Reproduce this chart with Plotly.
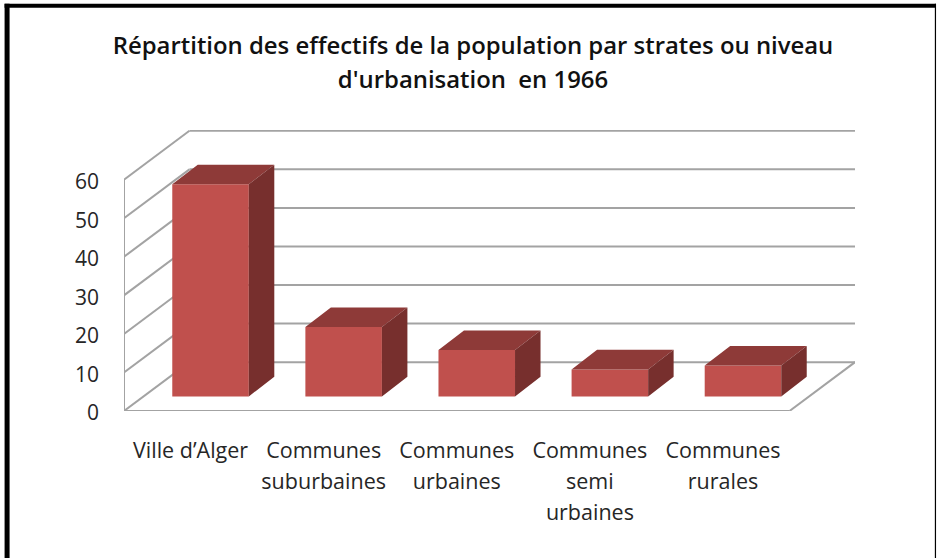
import plotly.graph_objects as go

categories = ["Ville d’Alger", "Communes<br>suburbaines", "Communes<br>urbaines", "Communes<br>semi<br>urbaines", "Communes<br>rurales"]
values = [55, 18, 12, 7, 8]
y_ticks = [0, 10, 20, 30, 40, 50, 60]
title_lines = ["Répartition des effectifs de la population par strates ou niveau", "d'urbanisation  en 1966"]

W, H = 937, 558
L, R, T, B = 123.5, 855, 130, 410.6
PX_X = 133.2   # px per category
PX_Y = 3.85    # px per value unit
px = lambda d: d / PX_X
py = lambda d: d / PX_Y

WALL_DX, WALL_DY = px(65.5), py(48.8)
BAR_DX, BAR_DY = px(20), py(14.6)
DEPTH_DX, DEPTH_DY = px(25.5), py(19.5)
BAR_W = px(76.6)
x_lo, x_hi = -0.5, -0.5 + (R - L) / PX_X
y_hi = (B - T) / PX_Y
GRID = "#A3A3A3"

def font_span(t, size):
    return "<br>".join(f'<span style="font-size:{size}px">{p}</span>' for p in t.split("<br>"))

def paper_x(p): return (p - L) / (R - L)
def paper_y(p): return (B - p) / (B - T)

shapes = []
def seg(x0, y0, x1, y1, color=GRID, width=2):
    shapes.append(dict(type="line", xref="x", yref="y", x0=x0, y0=y0, x1=x1, y1=y1,
                       line=dict(color=color, width=width), layer="below"))

x_front_r = x_lo + 5
for v in y_ticks:
    seg(x_lo, v, x_lo + WALL_DX, v + WALL_DY)
    seg(x_lo + WALL_DX, v + WALL_DY, x_front_r + WALL_DX, v + WALL_DY)
seg(x_lo, 0, x_lo, y_ticks[-1])
seg(x_lo, 0, x_front_r, 0)
seg(x_front_r, 0, x_front_r + WALL_DX, WALL_DY)

# page frame
for (a, b, c, d, w) in [(6.5, 4, 6.5, H, 5), (4, 6, 936, 6, 4), (935.5, 4, 935.5, H, 1.2)]:
    shapes.append(dict(type="line", xref="paper", yref="paper", x0=paper_x(a), y0=paper_y(b),
                       x1=paper_x(c), y1=paper_y(d), line=dict(color="black", width=w), layer="above"))

xs = [i + BAR_DX for i in range(len(values))]
top_x, top_y, side_x, side_y = [], [], [], []
for x, v in zip(xs, values):
    l, r = x - BAR_W / 2, x + BAR_W / 2
    b, t = BAR_DY, BAR_DY + v
    top_x += [l, r, r + DEPTH_DX, l + DEPTH_DX, l, None]
    top_y += [t, t, t + DEPTH_DY, t + DEPTH_DY, t, None]
    side_x += [r, r + DEPTH_DX, r + DEPTH_DX, r, r, None]
    side_y += [b, b + DEPTH_DY, t + DEPTH_DY, t, b, None]

fig = go.Figure()
fig.add_bar(x=xs, y=values, base=BAR_DY, width=BAR_W, marker=dict(color="#C0504D", line=dict(width=0)))
fig.add_scatter(x=top_x, y=top_y, mode="lines", fill="toself", fillcolor="#8E3A38", line=dict(width=0), hoverinfo="skip")
fig.add_scatter(x=side_x, y=side_y, mode="lines", fill="toself", fillcolor="#772F2D", line=dict(width=0), hoverinfo="skip")

FONT = "Open Sans"
fig.update_layout(
    width=W, height=H, showlegend=False, paper_bgcolor="white", plot_bgcolor="white",
    margin=dict(l=L, r=W - R, t=T, b=H - B, pad=0),
    font=dict(family=FONT, color="#262626"),
    title=dict(text="<br>".join(f'<span style="font-size:23.9px">{t}</span>' for t in title_lines),
               x=473 / W, xanchor="center", y=1 - 54 / H, yanchor="top",
               font=dict(family=FONT, size=26, color="#111111", weight=600)),
    shapes=shapes,
    xaxis=dict(range=[x_lo, x_hi], tickmode="array", tickvals=list(range(len(categories))),
               ticktext=[font_span(c, 21.5) for c in categories], tickfont=dict(size=24),
               showgrid=False, zeroline=False, showline=False, ticks="", ticklabelstandoff=22),
    yaxis=dict(range=[0, y_hi], tickmode="array", tickvals=y_ticks, ticktext=[str(v) for v in y_ticks],
               tickfont=dict(size=21), showgrid=False, zeroline=False, showline=False, ticks="",
               ticklabelstandoff=24, ticklabelshift=2),
)
fig.write_html("out.html", post_script="document.body.style.margin='0';", config=dict(displayModeBar=False))
